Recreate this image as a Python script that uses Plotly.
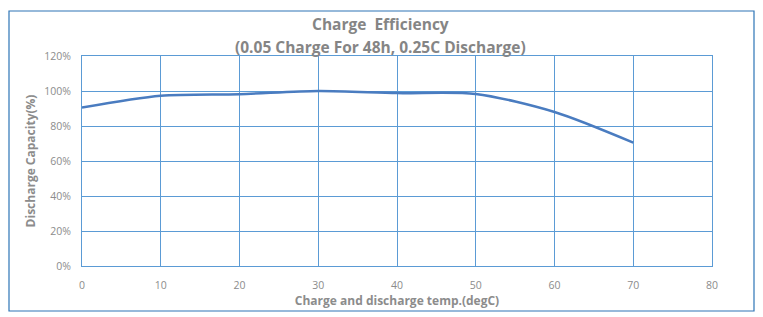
import plotly.graph_objects as go

temps = [0, 10, 20, 30, 40, 50, 60, 70]
capacity = [0.905, 0.973, 0.982, 1.0, 0.988, 0.983, 0.88, 0.705]
x_ticks = [0, 10, 20, 30, 40, 50, 60, 70, 80]
y_ticks = [0, 0.2, 0.4, 0.6, 0.8, 1.0, 1.2]
title_lines = ["Charge  Efficiency", "(0.05 Charge For 48h, 0.25C Discharge)"]

grid = "#5B9BD5"
gray = "#8C8C8C"
title_gray = "#858585"
font = "Open Sans"

fig = go.Figure()
fig.add_trace(go.Scatter(
    x=temps, y=capacity, mode="lines",
    line=dict(color="#4A7CC0", width=2.5, shape="spline", smoothing=0.8),
    showlegend=False, hoverinfo="skip"))

fig.update_layout(
    width=763, height=317,
    margin=dict(l=82, r=51, t=56, b=51),
    paper_bgcolor="white", plot_bgcolor="white",
    font=dict(family=font, color=gray),
)
for i, (txt, ypix) in enumerate(zip(title_lines, [24, 47])):
    fig.add_annotation(text="<b>%s</b>" % txt, xref="paper", yref="paper",
                       x=(380 - 82) / 630, y=(266 - ypix) / 210, xanchor="center", yanchor="middle",
                       showarrow=False, font=dict(family=font, size=15.5, color=title_gray))

fig.update_xaxes(range=[0, 80], tickvals=x_ticks, showgrid=True, gridcolor=grid, gridwidth=1,
                 showline=True, linecolor=grid, linewidth=1, mirror=True, zeroline=False,
                 ticks="outside", ticklen=9, tickcolor="rgba(0,0,0,0)", tickfont=dict(size=10.5, color=gray),
                 title=dict(text="<b>Charge and discharge temp.(degC)</b>", font=dict(size=12, color=gray), standoff=4))
fig.update_yaxes(range=[0, 1.2], tickvals=y_ticks, tickformat=".0%", showgrid=True, gridcolor=grid, gridwidth=1,
                 showline=True, linecolor=grid, linewidth=1, mirror=True, zeroline=False,
                 ticks="outside", ticklen=8, tickcolor="rgba(0,0,0,0)", tickfont=dict(size=10.5, color=gray),
                 title=dict(text="<b>Discharge Capacity(%)</b>", font=dict(size=12, color=gray), standoff=5))

fig.add_shape(type="rect", xref="paper", yref="paper",
              x0=(9 - 82) / 630, x1=(754 - 82) / 630, y0=(266 - 311) / 210, y1=(266 - 11) / 210,
              line=dict(color="#2E75B6", width=1.2), layer="below")

fig.write_html("out.html")
